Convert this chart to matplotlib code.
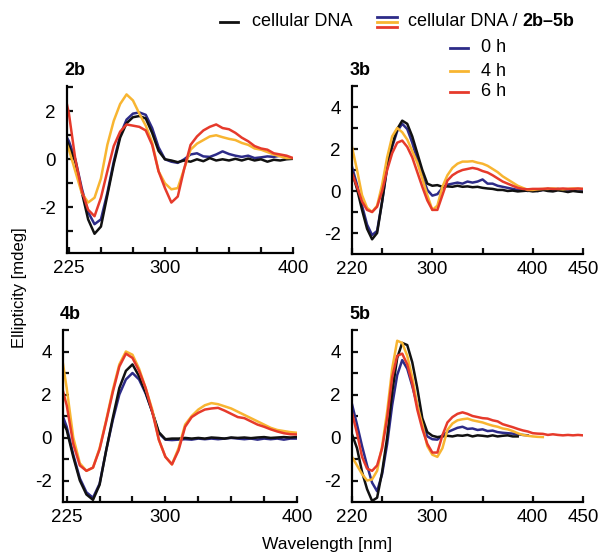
import matplotlib
matplotlib.use("Agg")
import matplotlib.pyplot as plt
from matplotlib.lines import Line2D
from matplotlib.ticker import FixedLocator

plt.rcParams['font.family'] = ['Liberation Sans', 'DejaVu Sans']
plt.rcParams['axes.unicode_minus'] = False

# === DATA ===

wl_2b = [222] + list(range(225, 401, 5))
black_2b = [1.0, 0.55, -0.1, -1.35, -2.5, -3.1, -2.8, -1.5, -0.2, 0.9, 1.5, 1.75, 1.8, 1.7,
            1.1, 0.35, 0.0, -0.05, -0.12, -0.05, -0.1, 0.0, -0.08, 0.05, -0.05, 0.0, -0.05,
            0.02, -0.05, 0.03, -0.05, 0.0, -0.1, -0.02, -0.05, 0.0, 0.02]
blue_2b = [1.05, 0.75, 0.0, -1.2, -2.2, -2.7, -2.5, -1.4, -0.1, 1.0, 1.65, 1.9, 1.95, 1.85,
           1.3, 0.5, 0.0, -0.1, -0.15, 0.0, 0.2, 0.25, 0.12, 0.1, 0.2, 0.33, 0.22, 0.15,
           0.1, 0.15, 0.05, 0.08, 0.12, 0.1, 0.15, 0.1]
yellow_2b = [0.8, 0.4, -0.5, -1.4, -1.8, -1.6, -0.8, 0.6, 1.6, 2.3, 2.7, 2.45, 1.9, 1.4,
             0.7, -0.5, -1.0, -1.25, -1.2, -0.4, 0.4, 0.65, 0.8, 0.95, 1.0, 0.92, 0.85,
             0.8, 0.68, 0.6, 0.45, 0.4, 0.3, 0.2, 0.12, 0.05, 0.05]
red_2b = [2.65, 1.9, 0.0, -1.3, -2.1, -2.37, -1.6, -0.5, 0.55, 1.15, 1.45, 1.4, 1.35, 1.2,
          0.6, -0.5, -1.2, -1.8, -1.55, -0.4, 0.6, 0.95, 1.2, 1.35, 1.45, 1.3, 1.25, 1.1,
          0.9, 0.75, 0.55, 0.45, 0.4, 0.25, 0.2, 0.15, 0.05]

wl_3b = list(range(220, 451, 5))
black_3b = [0.9, 0.1, -0.9, -1.8, -2.3, -2.0, -0.5, 1.2, 2.2, 2.95, 3.35, 3.2, 2.6, 1.8,
            1.0, 0.35, 0.25, 0.28, 0.2, 0.22, 0.2, 0.25, 0.2, 0.22, 0.18, 0.2, 0.15, 0.12,
            0.1, 0.05, 0.05, 0.0, 0.02, -0.02, 0.0, 0.02, -0.02, 0.0, 0.05, 0.0, -0.02,
            0.03, 0.0, -0.05, 0.0, -0.03, -0.05]
blue_3b = [1.15, 0.3, -0.7, -1.6, -2.1, -1.9, -0.5, 1.1, 2.1, 2.85, 3.2, 2.95, 2.3, 1.5,
           0.7, 0.05, -0.22, -0.15, 0.15, 0.3, 0.35, 0.4, 0.35, 0.45, 0.4, 0.45, 0.55,
           0.35, 0.35, 0.25, 0.2, 0.15, 0.1, 0.05, 0.05, 0.0, 0.05, 0.0, 0.05, 0.1, 0.05,
           0.1, 0.05, 0.0, 0.05, 0.05, 0.05]
yellow_3b = [2.1, 1.0, -0.2, -0.8, -1.0, -0.7, 0.3, 1.6, 2.6, 3.0, 2.8, 2.45, 1.9, 1.35,
             0.6, -0.2, -0.9, -0.7, 0.2, 0.75, 1.1, 1.3, 1.4, 1.4, 1.42, 1.35, 1.3, 1.2,
             1.05, 0.9, 0.7, 0.55, 0.4, 0.25, 0.15, 0.05, 0.05, 0.08, 0.1, 0.1, 0.12,
             0.1, 0.08, 0.1, 0.12, 0.1, 0.1]
red_3b = [0.85, 0.2, -0.5, -0.9, -1.0, -0.75, 0.0, 1.0, 1.8, 2.3, 2.4, 2.1, 1.6, 0.9,
          0.2, -0.45, -0.9, -0.9, -0.2, 0.5, 0.75, 0.9, 1.0, 1.05, 1.1, 1.05, 0.95, 0.88,
          0.75, 0.6, 0.45, 0.35, 0.25, 0.15, 0.1, 0.08, 0.1, 0.1, 0.1, 0.12, 0.1, 0.1,
          0.12, 0.1, 0.1, 0.12, 0.1]

wl_4b = [222] + list(range(225, 401, 5))
black_4b = [0.7, 0.35, -0.9, -2.0, -2.65, -2.9, -2.2, -0.6, 0.9, 2.3, 3.1, 3.4, 2.85, 2.1,
            1.2, 0.25, -0.08, -0.05, -0.05, -0.02, -0.05, -0.02, -0.05, 0.0, -0.02, -0.05,
            0.0, -0.02, 0.0, -0.03, 0.0, 0.02, -0.02, 0.0, 0.02, 0.0, 0.02]
blue_4b = [1.0, 0.5, -0.8, -1.9, -2.55, -2.8, -2.15, -0.6, 0.8, 2.0, 2.7, 3.0, 2.7, 2.05,
           1.2, 0.2, -0.1, -0.12, -0.1, -0.08, -0.1, -0.05, -0.08, -0.05, -0.08, -0.05,
           -0.02, -0.05, -0.08, -0.05, -0.1, -0.05, -0.08, -0.05, -0.1, -0.05, -0.05]
yellow_4b = [3.5, 2.3, 0.0, -1.2, -1.55, -1.4, -0.5, 0.8, 2.2, 3.4, 4.0, 3.85, 3.2, 2.3,
             1.3, -0.1, -0.9, -1.25, -0.5, 0.6, 1.0, 1.3, 1.5, 1.6, 1.55, 1.45, 1.35, 1.2,
             1.05, 0.9, 0.75, 0.6, 0.45, 0.35, 0.3, 0.25, 0.22]
red_4b = [2.2, 1.5, -0.3, -1.3, -1.55, -1.4, -0.55, 0.75, 2.1, 3.3, 3.9, 3.7, 3.1, 2.3,
          1.2, -0.1, -0.9, -1.25, -0.6, 0.5, 0.95, 1.15, 1.3, 1.35, 1.38, 1.25, 1.1, 0.95,
          0.9, 0.75, 0.6, 0.5, 0.38, 0.28, 0.2, 0.15, 0.14]

wl_5b = list(range(220, 451, 5))
black_5b = [0.15, -0.5, -1.6, -2.4, -2.95, -2.8, -1.6, 0.0, 2.1, 3.7, 4.4, 4.3, 3.5, 2.3,
            0.9, 0.25, 0.08, 0.02, 0.05, 0.08, 0.05, 0.1, 0.08, 0.12, 0.05, 0.1, 0.08,
            0.05, 0.1, 0.05, 0.08, 0.1, 0.05, 0.05]
blue_5b = [1.55, 0.6, -0.4, -1.3, -2.1, -2.5, -1.7, -0.3, 1.5, 2.9, 3.6, 3.2, 2.4, 1.5,
           0.6, 0.05, -0.08, -0.1, 0.1, 0.25, 0.35, 0.45, 0.5, 0.4, 0.42, 0.35, 0.38, 0.3,
           0.32, 0.25, 0.22, 0.2, 0.18, 0.15, 0.12, 0.1]
yellow_5b = [-0.9, -1.3, -1.7, -2.0, -1.95, -1.55, -0.4, 1.2, 3.2, 4.5, 4.4, 3.8, 2.8, 1.5,
             0.6, -0.4, -0.8, -0.9, -0.5, 0.35, 0.65, 0.8, 0.85, 0.88, 0.8, 0.75, 0.7,
             0.62, 0.55, 0.5, 0.42, 0.38, 0.3, 0.2, 0.12, 0.08, 0.05, 0.03, 0.02]
red_5b = [1.15, 0.2, -0.9, -1.45, -1.55, -1.3, -0.5, 0.9, 2.8, 3.8, 3.9, 3.4, 2.5, 1.3,
          0.4, -0.3, -0.7, -0.7, 0.1, 0.7, 0.95, 1.1, 1.17, 1.1, 1.0, 0.95, 0.9, 0.88,
          0.8, 0.75, 0.62, 0.55, 0.48, 0.4, 0.33, 0.28, 0.2, 0.18, 0.17, 0.12, 0.15,
          0.12, 0.1, 0.12, 0.1, 0.12, 0.1]

time_labels = ["0 h", "4 h", "6 h"]

# === COLOURS ===
C_BLACK = '#111111'
C_BLUE = '#2d2b88'
C_YELLOW = '#f8b531'
C_RED = '#e63a2b'

W, H = 602, 556
fig = plt.figure(figsize=(W / 100, H / 100), dpi=100)


def px_rect(left, top, right, bottom):
    return [left / W, 1 - bottom / H, (right - left) / W, (bottom - top) / H]


panels = [
    ("2b", px_rect(67, 86, 293, 253), wl_2b, (black_2b, blue_2b, yellow_2b, red_2b),
     (223.5, 400), (-3.9, 3.05), [225, 300, 400], [250, 275, 325, 350, 375],
     [-2, 0, 2], [-3, -1, 1, 3]),
    ("3b", px_rect(352, 86, 583, 254), wl_3b, (black_3b, blue_3b, yellow_3b, red_3b),
     (220, 450), (-3, 5), [220, 300, 400, 450], [250, 350],
     [-2, 0, 2, 4], [-1, 1, 3, 5]),
    ("4b", px_rect(63, 330, 297, 502), wl_4b, (black_4b, blue_4b, yellow_4b, red_4b),
     (222.2, 400), (-3, 5), [225, 300, 400], [250, 275, 325, 350, 375],
     [-2, 0, 2, 4], [-1, 1, 3, 5]),
    ("5b", px_rect(352, 330, 583, 502), wl_5b, (black_5b, blue_5b, yellow_5b, red_5b),
     (220, 450), (-3, 5), [220, 300, 400, 450], [250, 350],
     [-2, 0, 2, 4], [-1, 1, 3, 5]),
]

for name, rect, wl, (bk, bl, ye, rd), xlim, ylim, xmaj, xmin, ymaj, ymin in panels:
    ax = fig.add_axes(rect)
    ax.patch.set_alpha(0)
    for vals, col in ((bl, C_BLUE), (bk, C_BLACK), (ye, C_YELLOW), (rd, C_RED)):
        ax.plot(wl[:len(vals)], vals, color=col, lw=1.8, solid_joinstyle='round')
    ax.set_xlim(*xlim)
    ax.set_ylim(*ylim)
    ax.xaxis.set_major_locator(FixedLocator(xmaj))
    ax.xaxis.set_minor_locator(FixedLocator(xmin))
    ax.yaxis.set_major_locator(FixedLocator(ymaj))
    ax.yaxis.set_minor_locator(FixedLocator(ymin))
    for s in ('top', 'right'):
        ax.spines[s].set_visible(False)
    for s in ('left', 'bottom'):
        ax.spines[s].set_linewidth(1.6)
    ax.tick_params(which='both', direction='in', length=4, width=1.6, color=C_BLACK)
    ax.tick_params(axis='x', which='major', labelsize=13.5, pad=5)
    ax.tick_params(axis='y', which='major', labelsize=13.5, pad=8)
    ax.annotate(name, xy=(0, 1), xycoords='axes fraction', xytext=(-2, 5),
                textcoords='offset points', ha='left', va='bottom',
                fontsize=13, fontweight='bold')

# === LEGEND (drawn in figure pixels) ===


def fx(x):
    return x / W


def fy(y):
    return 1 - y / H


fig.add_artist(Line2D([fx(220), fx(238)], [fy(22), fy(22)], color=C_BLACK, lw=2))
fig.text(fx(252), fy(22), "cellular DNA", fontsize=13, va='center', ha='left')
for yy, col in ((17, C_BLUE), (22, C_YELLOW), (27, C_RED)):
    fig.add_artist(Line2D([fx(377), fx(397)], [fy(yy), fy(yy)], color=col, lw=2))
t1 = fig.text(fx(408), fy(22), "cellular DNA / ", fontsize=13, va='center', ha='left')
fig.canvas.draw()
bb = t1.get_window_extent(renderer=fig.canvas.get_renderer())
fig.text(bb.x1 / W, fy(22), "2b\u20135b", fontsize=13, fontweight='bold',
         va='center', ha='left')

for yy, col, lab in zip((48, 71, 92), (C_BLUE, C_YELLOW, C_RED), time_labels):
    fig.add_artist(Line2D([fx(450), fx(468)], [fy(yy), fy(yy)], color=col, lw=2))
    fig.text(fx(481), fy(yy), lab, fontsize=13, va='center', ha='left')

fig.text(fx(20), fy(288), "Ellipticity [mdeg]", rotation=90, fontsize=12,
         ha='center', va='center')
fig.text(fx(327), fy(545), "Wavelength [nm]", fontsize=12.5, ha='center', va='center')

fig.savefig("out.png", dpi=100)
